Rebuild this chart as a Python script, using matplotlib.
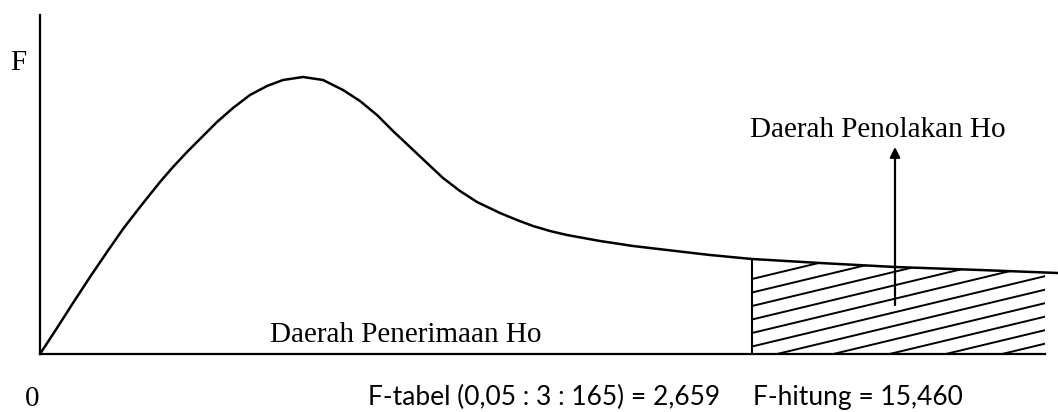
import matplotlib
matplotlib.use("Agg")
import matplotlib.pyplot as plt
import numpy as np
from matplotlib.patches import Polygon

# kurva F (satuan bebas)
x_kurva = [0.00, 0.17, 0.33, 0.50, 0.67, 0.83, 1.00, 1.20, 1.33, 1.47, 1.60,
           1.77, 1.93, 2.10, 2.27, 2.43, 2.63, 2.83, 3.03, 3.20, 3.37, 3.53,
           3.70, 3.87, 4.03, 4.20, 4.37, 4.60, 4.77, 4.93, 5.10, 5.27, 5.60,
           5.93, 6.27, 6.70, 7.12, 7.80, 8.55, 9.40, 10.18]
y_kurva = [0.00, 0.26, 0.51, 0.77, 1.02, 1.25, 1.47, 1.72, 1.87, 2.02, 2.15,
           2.32, 2.46, 2.59, 2.68, 2.74, 2.77, 2.74, 2.64, 2.53, 2.39, 2.23,
           2.07, 1.91, 1.76, 1.63, 1.52, 1.41, 1.34, 1.28, 1.23, 1.19, 1.13,
           1.08, 1.04, 0.99, 0.95, 0.91, 0.87, 0.84, 0.81]

f_tabel_x = 7.12     # batas daerah penolakan
batas_kanan = 10.05  # ujung sumbu x
panah_x = 8.55

label_terima = "Daerah Penerimaan Ho"
label_tolak = "Daerah Penolakan Ho"
teks_tabel = "F-tabel (0,05 : 3 : 165) = 2,659"
teks_hitung = "F-hitung = 15,460"

serif = "Liberation Serif"
sans = "Lato"

fig = plt.figure(figsize=(10.58, 4.12), dpi=100)
ax = fig.add_axes([40 / 1058, 58 / 412, 1 - 40 / 1058, 1 - 58 / 412])
ax.set_xlim(0, 10.18)
ax.set_ylim(0, 3.54)

# sumbu
for s in ["top", "right"]:
    ax.spines[s].set_visible(False)
ax.spines["left"].set_bounds(0, 3.39)
ax.spines["bottom"].set_bounds(0, batas_kanan)
ax.spines["left"].set_linewidth(1.6)
ax.spines["bottom"].set_linewidth(1.6)
ax.set_xticks([])
ax.set_yticks([])

ax.plot(x_kurva, y_kurva, color="black", lw=1.8, solid_joinstyle="round",
        solid_capstyle="round", clip_on=False)

# daerah penolakan (arsir)
xk = np.array(x_kurva)
yk = np.array(y_kurva)
x_reg = np.linspace(f_tabel_x, batas_kanan, 60)
y_reg = np.interp(x_reg, xk, yk)
poly = np.vstack([np.column_stack([x_reg, y_reg]), [[batas_kanan, -0.05], [f_tabel_x, -0.05]]])
region = Polygon(poly, closed=True, facecolor="none", edgecolor="none")
ax.add_patch(region)

ax.plot([f_tabel_x, f_tabel_x], [0, np.interp(f_tabel_x, xk, yk)], color="black", lw=1.5)
kemiringan = 0.24
for c in np.arange(0.75, -0.85, -0.135):
    xs = np.array([f_tabel_x, batas_kanan])
    ln, = ax.plot(xs, c + kemiringan * (xs - f_tabel_x), color="black", lw=1.4)
    ln.set_clip_path(region)

# panah
ax.annotate("", xy=(panah_x, 2.07), xytext=(panah_x, 0.49),
            arrowprops=dict(arrowstyle="-|>", color="black", lw=1.6,
                            mutation_scale=15, shrinkA=0, shrinkB=0))

# teks
ax.text(8.38, 2.17, label_tolak, fontsize=21, family=serif, ha="center", va="baseline")
ax.text(3.66, 0.12, label_terima, fontsize=21, family=serif, ha="center", va="baseline")
ax.text(-0.30, 2.84, "F", fontsize=21, family=serif, ha="left", va="baseline", clip_on=False)
ax.text(-0.08, -0.52, "0", fontsize=21, family=serif, ha="center", va="baseline", clip_on=False)
ax.text(3.28, -0.51, teks_tabel, fontsize=19, family=sans, ha="left", va="baseline", clip_on=False)
ax.text(7.13, -0.51, teks_hitung, fontsize=19, family=sans, ha="left", va="baseline", clip_on=False)

fig.savefig("out.png", dpi=100)
